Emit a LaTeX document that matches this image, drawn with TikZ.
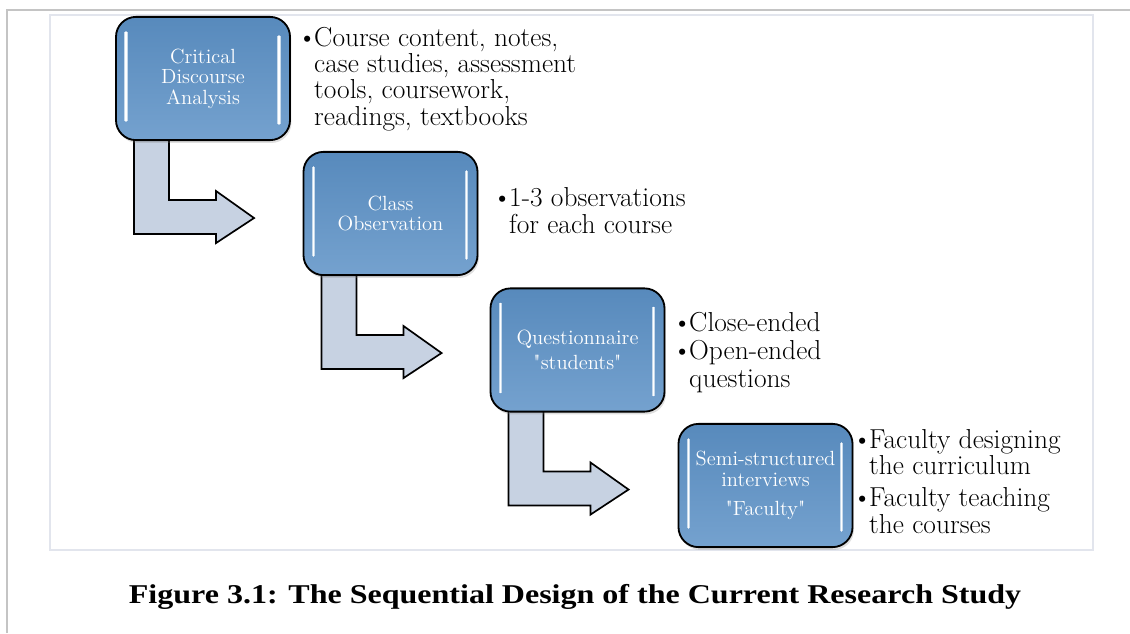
\documentclass[tikz,border=0pt]{standalone}
\usepackage{fontspec}
\newfontfamily\capfont{Liberation Serif}
\usetikzlibrary{shadows,calc,backgrounds}

\definecolor{stageblue}{RGB}{92,145,198}
\definecolor{shaftgray}{RGB}{199,210,226}
\definecolor{framegray}{RGB}{196,196,196}
\definecolor{panelgray}{RGB}{226,229,237}

% bullet and hanging indent for the side notes
\newcommand{\itm}{\textbullet\kern-2pt}
\newcommand{\ind}{\phantom{\itm}}

\begin{document}
\begin{tikzpicture}[x=0.025cm, y=-0.025cm,
  stage/.style={draw=black, line width=1.3pt, rounded corners=0.5cm,
    top color=stageblue!95!black, bottom color=stageblue!85!white,
    minimum width=4.35cm, minimum height=3.08cm, align=center, text=white,
    font=\fontsize{14.6}{14.6}\selectfont,
    drop shadow={opacity=0.25, shadow xshift=1pt, shadow yshift=-2pt}},
  note/.style={anchor=base west, align=left, inner sep=0pt,
    font=\fontsize{19.5}{18.5}\selectfont},
  shaft/.style={draw=black, line width=1.2pt, fill=shaftgray, line join=miter},
  gleam/.style={draw=white, line width=1.1pt, line cap=round,
    preaction={draw=stageblue!35!white, line width=2.6pt}}]

  \useasboundingbox (0,0) rectangle (1130,633);
  \draw[framegray, line width=1pt] (7,633) -- (7,10) -- (1130,10);
  \draw[panelgray, line width=0.8pt] (50,15) rectangle (1093,550);

  % the four stages
  \node[stage] (crit) at (203,78.5) {Critical\\Discourse\\Analysis};
  \node[stage] (obs) at (390.5,213.5) {Class\\Observation};
  \node[stage] (quest) at (577.5,350) {Questionnaire\\[3.2pt]\textquotedbl students\textquotedbl};
  \node[stage] (intv) at (765.5,485.5) {Semi-structured\\interviews\\[6.4pt]\textquotedbl Faculty\textquotedbl};

  \foreach \n in {crit,obs,quest,intv} {
    \draw[gleam] ($(\n.north west)+(11,16)$) -- ($(\n.south west)+(11,-20)$);
    \draw[gleam] ($(\n.north east)+(-12,20)$) -- ($(\n.south east)+(-12,-17)$);
  }

  % bent arrows, tucked under the box they leave
  \begin{scope}[on background layer]
    \foreach \a in {crit,obs,quest}
      \draw[shaft, shift={(\a.south west)}]
        (19,-10) -- (19,93) -- (101,93) -- (101,102) -- (139,77) -- (101,50) -- (101,59) -- (54,59) -- (54,-10) -- cycle;
  \end{scope}

  % side notes, placed by their last baseline
  \node[note] (critnote) at (297,125) {\itm Course content, notes,\\ \ind case studies, assessment\\ \ind tools, coursework,\\ \ind readings, textbooks};
  \node[note] (obsnote) at (492,233) {\itm 1-3 observations\\ \ind for each course};
  \node[note] (questnote) at (672,387) {\itm Close-ended\\[1.4pt]\itm Open-ended\\[1.4pt] \ind questions};
  \node[note] (intvnote) at (852,533) {\itm Faculty designing\\ \ind the curriculum\\[4.3pt]\itm Faculty teaching\\ \ind the courses};

  \node[font=\capfont\bfseries\fontsize{19.3}{22}\selectfont, anchor=base] (caption) at (575,603)
    {\scalebox{1.18}[1]{Figure 3.1: The Sequential Design of the Current Research Study}};
\end{tikzpicture}
\end{document}
